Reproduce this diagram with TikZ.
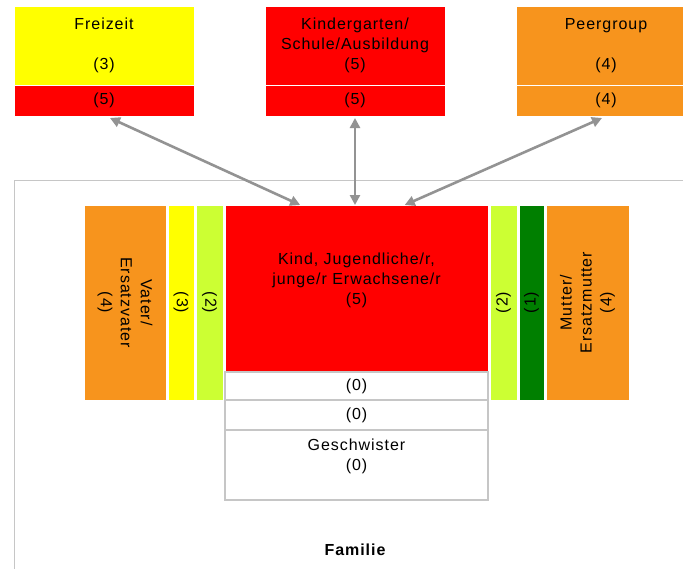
\documentclass[tikz,border=0pt]{standalone}
\usepackage{fontspec}
\setmainfont{Liberation Sans}[LetterSpace=6]
\usepackage{tikz}
\usetikzlibrary{arrows.meta}
\definecolor{ampelrot}{HTML}{FF0000}
\definecolor{ampelgelb}{HTML}{FFFF00}
\definecolor{ampelorange}{HTML}{F7941D}
\definecolor{hellgruen}{HTML}{CCFF33}
\definecolor{dunkelgruen}{HTML}{007F00}
\colorlet{rahmengrau}{gray!45!white}
\colorlet{pfeilgrau}{gray!85!white}

\tikzset{
  feld/.style={draw=white, line width=1pt, inner sep=0pt, outer sep=0pt,
    align=center, font=\fontsize{16}{20}\selectfont},
  leerfeld/.style={feld, draw=rahmengrau, line width=1.5pt, fill=white},
  bezug/.style={draw=pfeilgrau, line width=2.6pt,
    {Triangle[length=10pt,width=10pt]}-{Triangle[length=10pt,width=10pt]}}
}

\begin{document}
\begin{tikzpicture}[x=1pt,y=-1pt]
      \useasboundingbox (0,0) rectangle (683,568);
      \clip (0,0) rectangle (683,568);

      % Familie
      \draw [rahmengrau, line width=1pt] (14,620) -- (14,180) -- (720,180);
      \node [font=\fontsize{16}{20}\selectfont\bfseries] (familie) at (355,550) {Familie};

      % obere Felder
      \node [feld, fill=ampelgelb, minimum width=180, minimum height=79] (frz3) at (104,45.5) {Freizeit\\~\\(3)};
      \node [feld, fill=ampelrot, minimum width=180, minimum height=31] (frz5) at (104,100.5) {(5)};

      \node [feld, fill=ampelrot, minimum width=180, minimum height=79] (kiga3) at (355,45.5) {Kindergarten/\\Schule/Ausbildung\\(5)};
      \node [feld, fill=ampelrot, minimum width=180, minimum height=31] (kiga5) at (355,100.5) {(5)};

      \node [feld, fill=ampelorange, minimum width=180, minimum height=79] (peer3) at (606,45.5) {Peergroup\\~\\(4)};
      \node [feld, fill=ampelorange, minimum width=180, minimum height=31] (peer5) at (606,100.5) {(4)};

      % Mitte
      \node [feld, fill=ampelrot, minimum width=263, minimum height=167] (kind) at (356.5,288.5) {Kind, Jugendliche/r,\\junge/r Erwachsene/r\\(5)\\~};
      \node [leerfeld, minimum width=263, minimum height=28] (null1) at (356.5,386) {(0)};
      \node [leerfeld, minimum width=263, minimum height=30] (null2) at (356.5,415) {(0)};
      \node [leerfeld, minimum width=263, minimum height=70] (geschw) at (356.5,465) {Geschwister\\(0)\\~};

      % links
      \node [feld, fill=ampelorange, rotate=-90, minimum width=195, minimum height=82] (vater) at (125,302.5) {Vater/\\Ersatzvater\\(4)};
      \node [feld, fill=ampelgelb, rotate=-90, minimum width=195, minimum height=26] (vater3) at (181,302.5) {(3)};
      \node [feld, fill=hellgruen, rotate=-90, minimum width=195, minimum height=27] (vater2) at (209.5,302.5) {(2)};

      % rechts
      \node [feld, fill=hellgruen, rotate=90, minimum width=195, minimum height=27] (mutter2) at (503.5,302.5) {(2)};
      \node [feld, fill=dunkelgruen, rotate=90, minimum width=195, minimum height=25] (mutter1) at (531.5,302.5) {(1)};
      \node [feld, fill=ampelorange, rotate=90, minimum width=195, minimum height=83] (mutter) at (587.5,302.5) {Mutter/\\Ersatzmutter\\(4)};

      % Pfeile
      \draw [bezug] ([xshift=6pt,yshift=-2pt]frz5.south) -- (kind.124);
      \draw [bezug] ([yshift=-2pt]kiga5.south) -- (kiga5.south |- kind.north);
      \draw [bezug] ([xshift=-4pt,yshift=-2pt]peer5.south) -- (kind.60);

    \end{tikzpicture}
\end{document}
